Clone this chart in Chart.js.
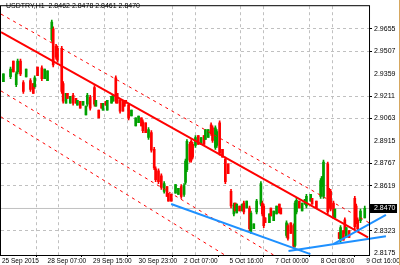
<!DOCTYPE html>
<html>
<head>
<meta charset="utf-8">
<style>
  html, body { margin: 0; padding: 0; background: #fff; }
  canvas { display: block; }
</style>
<script src="https://cdn.jsdelivr.net/npm/chart.js@4.4.0/dist/chart.umd.min.js"></script>
</head>
<body>
<canvas id="chart" width="400" height="265"></canvas>
<script>
// USDTRY H1 candles (bar index = hours from the left edge)
const symbolTitle = 'USDTRY,H1  2.8462 2.8478 2.8461 2.8470';

const barIndex = [1, 6, 8, 10, 11, 13, 15, 17, 20, 22, 23, 25, 28, 30, 32, 35, 36, 38, 39, 42,
  43, 45, 46, 48, 50, 52, 53, 55, 57, 59, 60, 62, 65, 66, 68, 70, 71, 73, 74, 77,
  78, 80, 81, 83, 85, 86, 87, 89, 91, 94, 96, 98, 99, 101, 103, 105, 107, 108, 110, 112,
  114, 116, 117, 119, 122, 124, 126, 128, 129, 130, 132, 133, 134, 136, 138, 140, 142, 143, 145, 147,
  148, 150, 151, 153, 155, 157, 159, 161, 163, 164, 165, 167, 169, 170, 172, 174, 175, 177, 179, 182,
  183, 184, 185, 188, 189, 191, 193, 195, 196, 200, 201, 203, 205, 206, 207, 209, 211, 213, 214, 217,
  218, 221, 224, 225, 226, 229, 230, 231, 233, 234, 237, 238, 240, 241, 242, 244, 248, 249, 250, 252, 255];

const highPrices = [2.9358, 2.9403, 2.9442, 2.9371, 2.9455, 2.9455, 2.9313, 2.9390, 2.9326, 2.9293,
  2.9345, 2.9403, 2.9410, 2.9390, 2.9377, 2.9713, 2.9668, 2.9552, 2.9539, 2.9539,
  2.9306, 2.9229, 2.9229, 2.9209, 2.9229, 2.9196, 2.9183, 2.9177, 2.9177, 2.9145,
  2.9229, 2.9216, 2.9280, 2.9183, 2.9119, 2.9164, 2.9164, 2.9177, 2.9183, 2.9209,
  2.9216, 2.9345, 2.9229, 2.9196, 2.9183, 2.9183, 2.9183, 2.9164, 2.9119, 2.9067,
  2.9080, 2.9067, 2.9054, 2.9035, 2.9003, 2.8983, 2.8873, 2.8744, 2.8731, 2.8699,
  2.8647, 2.8615, 2.8570, 2.8563, 2.8628, 2.8602, 2.8628, 2.8634, 2.8796, 2.8925,
  2.8906, 2.8925, 2.8906, 2.8951, 2.8951, 2.8938, 2.8951, 2.8990, 2.8990, 2.9035,
  2.9015, 2.9015, 2.8990, 2.9048, 2.8860, 2.8809, 2.8764, 2.8596, 2.8505, 2.8505,
  2.8499, 2.8486, 2.8499, 2.8518, 2.8518, 2.8486, 2.8453, 2.8369, 2.8531, 2.8647,
  2.8518, 2.8499, 2.8408, 2.8434, 2.8473, 2.8453, 2.8486, 2.8499, 2.8473, 2.8389,
  2.8369, 2.8376, 2.8369, 2.8518, 2.8537, 2.8518, 2.8505, 2.8531, 2.8563, 2.8563,
  2.8537, 2.8518, 2.8667, 2.8680, 2.8789, 2.8776, 2.8602, 2.8596, 2.8518, 2.8466,
  2.8311, 2.8357, 2.8324, 2.8408, 2.8344, 2.8324, 2.8550, 2.8499, 2.8408, 2.8466, 2.8486];

const lowPrices = [2.9306, 2.9326, 2.9371, 2.9274, 2.9358, 2.9345, 2.9229, 2.9338, 2.9242, 2.9229,
  2.9261, 2.9345, 2.9313, 2.9326, 2.9313, 2.9571, 2.9403, 2.9455, 2.9435, 2.9229,
  2.9164, 2.9164, 2.9196, 2.9164, 2.9151, 2.9164, 2.9151, 2.9132, 2.9151, 2.9087,
  2.9145, 2.9119, 2.9145, 2.9145, 2.9067, 2.9132, 2.9119, 2.9151, 2.9119, 2.9164,
  2.9177, 2.9164, 2.9164, 2.9099, 2.9112, 2.9145, 2.9164, 2.9054, 2.9080, 2.9015,
  2.9035, 2.9015, 2.8970, 2.8970, 2.8925, 2.8841, 2.8725, 2.8647, 2.8634, 2.8596,
  2.8570, 2.8550, 2.8518, 2.8518, 2.8570, 2.8563, 2.8537, 2.8550, 2.8628, 2.8712,
  2.8776, 2.8776, 2.8796, 2.8873, 2.8893, 2.8893, 2.8893, 2.8925, 2.8938, 2.8951,
  2.8906, 2.8860, 2.8873, 2.8822, 2.8809, 2.8634, 2.8699, 2.8473, 2.8421, 2.8453,
  2.8441, 2.8453, 2.8453, 2.8434, 2.8473, 2.8324, 2.8305, 2.8337, 2.8434, 2.8486,
  2.8421, 2.8344, 2.8376, 2.8376, 2.8421, 2.8389, 2.8434, 2.8441, 2.8434, 2.8279,
  2.8260, 2.8305, 2.8208, 2.8214, 2.8434, 2.8473, 2.8453, 2.8499, 2.8473, 2.8518,
  2.8499, 2.8473, 2.8537, 2.8615, 2.8537, 2.8434, 2.8473, 2.8453, 2.8408, 2.8408,
  2.8273, 2.8247, 2.8260, 2.8305, 2.8279, 2.8279, 2.8337, 2.8369, 2.8324, 2.8376, 2.8408];

const openPrices = [2.9306, 2.9339, 2.9442, 2.9287, 2.9371, 2.9442, 2.9300, 2.9338, 2.9313, 2.9293,
  2.9274, 2.9403, 2.9397, 2.9326, 2.9313, 2.9584, 2.9655, 2.9539, 2.9526, 2.9526,
  2.9293, 2.9164, 2.9229, 2.9164, 2.9216, 2.9196, 2.9151, 2.9177, 2.9151, 2.9087,
  2.9158, 2.9203, 2.9267, 2.9145, 2.9119, 2.9164, 2.9119, 2.9177, 2.9119, 2.9164,
  2.9177, 2.9332, 2.9229, 2.9183, 2.9183, 2.9183, 2.9183, 2.9151, 2.9080, 2.9015,
  2.9035, 2.9067, 2.9041, 2.9035, 2.8938, 2.8970, 2.8860, 2.8731, 2.8718, 2.8686,
  2.8583, 2.8615, 2.8570, 2.8563, 2.8570, 2.8563, 2.8615, 2.8563, 2.8641, 2.8725,
  2.8893, 2.8912, 2.8893, 2.8886, 2.8951, 2.8893, 2.8951, 2.8925, 2.8938, 2.9022,
  2.9002, 2.8873, 2.8886, 2.9035, 2.8860, 2.8796, 2.8764, 2.8583, 2.8434, 2.8505,
  2.8441, 2.8486, 2.8453, 2.8505, 2.8473, 2.8473, 2.8318, 2.8337, 2.8447, 2.8499,
  2.8505, 2.8486, 2.8408, 2.8376, 2.8473, 2.8389, 2.8434, 2.8499, 2.8473, 2.8292,
  2.8357, 2.8376, 2.8357, 2.8227, 2.8447, 2.8518, 2.8453, 2.8499, 2.8486, 2.8518,
  2.8537, 2.8518, 2.8550, 2.8615, 2.8550, 2.8764, 2.8589, 2.8583, 2.8505, 2.8408,
  2.8311, 2.8260, 2.8324, 2.8395, 2.8279, 2.8324, 2.8537, 2.8486, 2.8395, 2.8389, 2.8408];

const closePrices = [2.9358, 2.9390, 2.9371, 2.9358, 2.9442, 2.9358, 2.9242, 2.9390, 2.9255, 2.9229,
  2.9332, 2.9345, 2.9326, 2.9390, 2.9377, 2.9700, 2.9416, 2.9468, 2.9448, 2.9242,
  2.9177, 2.9229, 2.9196, 2.9209, 2.9164, 2.9164, 2.9183, 2.9132, 2.9177, 2.9145,
  2.9216, 2.9132, 2.9158, 2.9183, 2.9067, 2.9132, 2.9164, 2.9151, 2.9183, 2.9209,
  2.9216, 2.9177, 2.9164, 2.9112, 2.9112, 2.9145, 2.9164, 2.9067, 2.9119, 2.9067,
  2.9080, 2.9015, 2.8983, 2.8970, 2.8990, 2.8854, 2.8738, 2.8660, 2.8647, 2.8609,
  2.8634, 2.8550, 2.8518, 2.8518, 2.8628, 2.8602, 2.8550, 2.8621, 2.8783, 2.8912,
  2.8789, 2.8789, 2.8809, 2.8938, 2.8893, 2.8938, 2.8893, 2.8990, 2.8990, 2.8964,
  2.8919, 2.9002, 2.8977, 2.8835, 2.8809, 2.8647, 2.8699, 2.8486, 2.8492, 2.8453,
  2.8499, 2.8453, 2.8499, 2.8447, 2.8518, 2.8337, 2.8440, 2.8369, 2.8518, 2.8634,
  2.8434, 2.8357, 2.8376, 2.8434, 2.8421, 2.8453, 2.8486, 2.8441, 2.8434, 2.8376,
  2.8273, 2.8305, 2.8221, 2.8505, 2.8524, 2.8473, 2.8505, 2.8531, 2.8550, 2.8563,
  2.8499, 2.8473, 2.8654, 2.8680, 2.8776, 2.8447, 2.8486, 2.8466, 2.8421, 2.8466,
  2.8273, 2.8344, 2.8260, 2.8318, 2.8344, 2.8279, 2.8350, 2.8382, 2.8337, 2.8453, 2.8470];

const currentPrice = 2.8470;

const yTicks = [2.9655, 2.9507, 2.9359, 2.9211, 2.9063, 2.8915, 2.8767, 2.8619, 2.8471, 2.8323, 2.8175];
const timeLabels = ['25 Sep 2015', '28 Sep 07:00', '29 Sep 15:00', '30 Sep 23:00', '2 Oct 07:00',
  '5 Oct 16:00', '7 Oct 00:00', '8 Oct 08:00', '9 Oct 16:00'];

// objects drawn on the chart (bar index, price)
const channelMid = [{ x: -0.7, y: 2.9633 }, { x: 257.3, y: 2.8279 }];
const channelUpper = [{ x: -0.7, y: 2.9752 }, { x: 258, y: 2.8376 }];
const channelLow1 = [{ x: -0.7, y: 2.9245 }, { x: 190.9, y: 2.8163 }];
const channelLow2 = [{ x: -0.7, y: 2.9074 }, { x: 156.6, y: 2.8163 }];
const trendA = [{ x: 118.9, y: 2.8499 }, { x: 216.8, y: 2.8169 }];
const trendB = [{ x: 201.4, y: 2.8189 }, { x: 269.9, y: 2.8286 }];
const trendC = [{ x: 232.9, y: 2.8234 }, { x: 269.9, y: 2.8428 }];
const bidLine = [{ x: -0.7, y: currentPrice }, { x: 258, y: currentPrice }];

const FONT = '"Liberation Sans", Arial, sans-serif';
const BULL = '#00a000';
const BEAR = '#ff0000';
const GRID = '#c0c0c0';

Chart.defaults.font.family = FONT;

function candleColor(i) {
    return closePrices[i] >= openPrices[i] ? BULL : BEAR;
}

// some grid lines are lost in the small screenshot, keep the same ones
function xGridShown(v) {
    const k = Math.round(v / 16);
    return k > 0 && k % 3 !== 1;
}
function yGridShown(v) {
    const j = Math.round((yTicks[0] - v) / 0.0148);
    return j % 3 !== 2 && j < 10;
}

const lineDs = (data, color, width, dash, order, clip) => ({
    type: 'line',
    data: data,
    borderColor: color,
    borderWidth: width,
    borderDash: dash,
    pointRadius: 0,
    fill: false,
    order: order,
    clip: clip
});

const overlay = {
    id: 'overlay',
    beforeDraw(chart) {
        const ctx = chart.ctx;
        ctx.save();
        ctx.fillStyle = '#fff';
        ctx.fillRect(0, 0, chart.width, chart.height);
        ctx.restore();
    },
    afterDraw(chart) {
        const ctx = chart.ctx;
        const area = chart.chartArea;
        const y = chart.scales.y.getPixelForValue(currentPrice);
        ctx.save();

        // plot frame
        ctx.strokeStyle = '#000';
        ctx.lineWidth = 1;
        ctx.strokeRect(area.left - 0.5, area.top - 0.5, area.right - area.left + 1, area.bottom - area.top + 1);

        // title
        ctx.fillStyle = '#000';
        ctx.font = '7px ' + FONT;
        ctx.textBaseline = 'top';
        ctx.fillText(symbolTitle, 6, 3);

        // bid label
        ctx.fillStyle = '#000';
        ctx.fillRect(area.right + 1, Math.round(y) - 4, 27, 9);
        ctx.fillStyle = '#fff';
        ctx.textBaseline = 'middle';
        ctx.fillText(currentPrice.toFixed(4), area.right + 5, Math.round(y) + 0.5);

        // window edge
        ctx.fillStyle = '#d6a760';
        ctx.fillRect(399, 0, 1, chart.height);
        ctx.restore();
    }
};

new Chart(document.getElementById('chart'), {
    type: 'bar',
    data: {
        datasets: [
            lineDs(trendA, '#1e90ff', 2, [], 0, false),
            lineDs(trendB, '#1e90ff', 2, [], 0, false),
            lineDs(trendC, '#1e90ff', 2, [], 0, false),
            lineDs(channelMid, BEAR, 2, [], 1),
            lineDs(channelUpper, BEAR, 1, [3, 4], 2),
            lineDs(channelLow1, BEAR, 1, [3, 4], 2),
            lineDs(channelLow2, BEAR, 1, [3, 4], 2),
            {
                type: 'bar',
                data: barIndex.map((x, i) => ({ x: x, y: [openPrices[i], closePrices[i]] })),
                backgroundColor: (c) => candleColor(c.dataIndex),
                borderWidth: 0,
                barThickness: 2,
                grouped: false,
                order: 3
            },
            {
                type: 'bar',
                data: barIndex.map((x, i) => ({ x: x, y: [lowPrices[i], highPrices[i]] })),
                backgroundColor: (c) => candleColor(c.dataIndex),
                borderWidth: 0,
                barThickness: 1,
                grouped: false,
                order: 4
            },
            lineDs(bidLine, GRID, 1, [], 5)
        ]
    },
    options: {
        responsive: false,
        devicePixelRatio: 1,
        animation: false,
        layout: { padding: { left: 1, top: 1, right: 0, bottom: 0 } },
        plugins: {
            legend: { display: false },
            tooltip: { enabled: false }
        },
        scales: {
            x: {
                type: 'linear',
                min: -0.7,
                max: 258,
                offset: false,
                afterBuildTicks: (s) => {
                    s.ticks = [];
                    for (let k = 0; k <= 16; k++) s.ticks.push({ value: k * 16 });
                },
                afterFit: (s) => { s.height = 10; },
                ticks: {
                    autoSkip: false,
                    maxRotation: 0,
                    align: 'start',
                    padding: 0,
                    color: '#000',
                    font: { size: 6.5 },
                    callback: (v) => {
                        const k = Math.round(v / 16);
                        return k % 2 === 0 ? timeLabels[k / 2] : '';
                    }
                },
                grid: {
                    color: (c) => (c.tick && xGridShown(c.tick.value)) ? GRID : 'rgba(0,0,0,0)',
                    tickColor: (c) => (c.tick && Math.round(c.tick.value / 16) % 2 === 0) ? '#000' : 'rgba(0,0,0,0)',
                    tickLength: 2,
                    lineWidth: 1
                },
                border: { display: false, dash: [3, 3] }
            },
            y: {
                type: 'linear',
                position: 'right',
                min: 2.8163,
                max: 2.9804,
                afterBuildTicks: (s) => {
                    s.ticks = yTicks.map(v => ({ value: v }));
                },
                afterFit: (s) => { s.width = 29; },
                ticks: {
                    padding: 2,
                    color: '#000',
                    font: { size: 7 },
                    callback: (v) => v.toFixed(4)
                },
                grid: {
                    color: (c) => (c.tick && yGridShown(c.tick.value)) ? GRID : 'rgba(0,0,0,0)',
                    tickColor: (c) => (c.tick && yGridShown(c.tick.value)) ? '#000' : 'rgba(0,0,0,0)',
                    tickLength: 3,
                    lineWidth: 1
                },
                border: { display: false, dash: [3, 3] }
            }
        }
    },
    plugins: [overlay]
});
</script>
</body>
</html>
